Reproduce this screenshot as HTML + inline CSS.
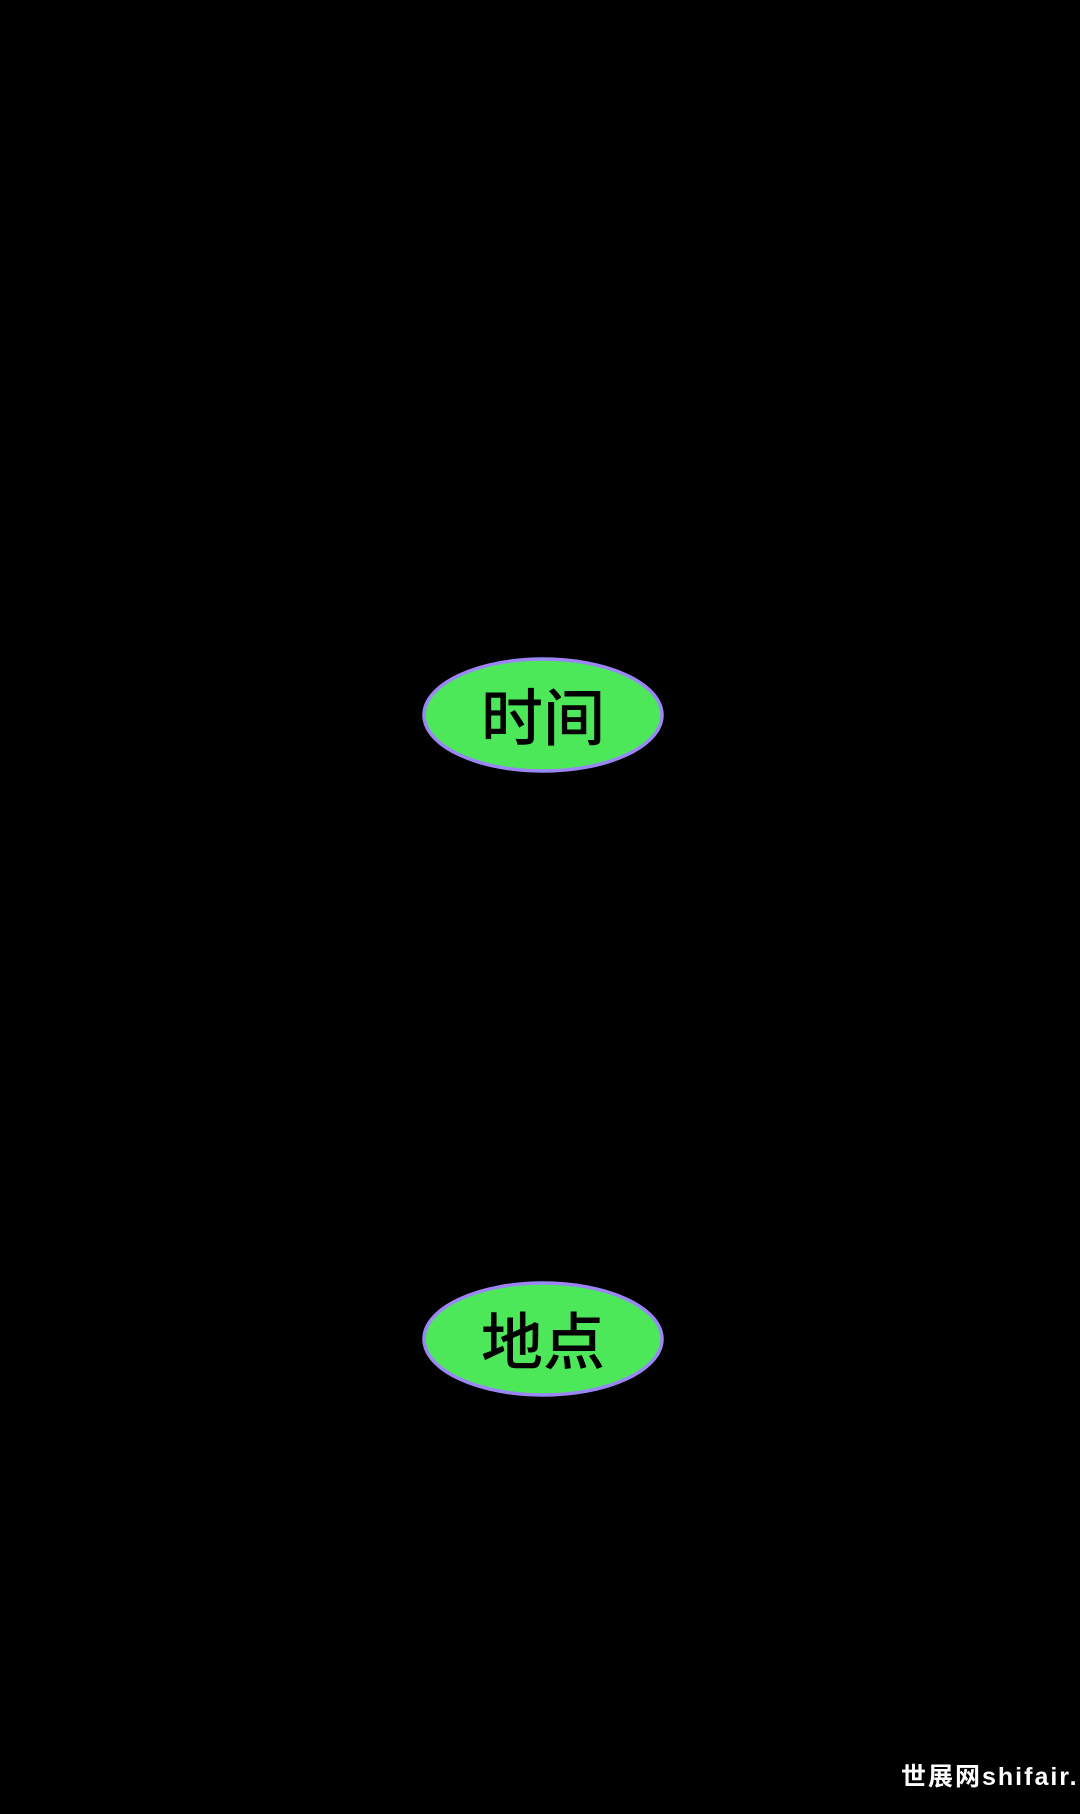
<!DOCTYPE html>
<html><head><meta charset="utf-8"><style>
html,body{margin:0;padding:0;background:#000;}
body{width:1080px;height:1814px;position:relative;overflow:hidden;}
.wm{position:absolute;left:901px;top:1757px;font:bold 25px "Liberation Sans","Noto Sans CJK SC",sans-serif;color:#fff;white-space:nowrap;letter-spacing:2px;}
</style></head><body>
<svg width="1080" height="1814" style="position:absolute;left:0;top:0">
<ellipse cx="543" cy="715" rx="119" ry="56" fill="#4ce85a" stroke="#9b86f5" stroke-width="3.5"/>
<text x="543" y="740" text-anchor="middle" font-family="Noto Sans CJK SC, sans-serif" font-weight="500" font-size="62" fill="#000">时间</text>
<ellipse cx="543" cy="1339" rx="119" ry="56" fill="#4ce85a" stroke="#9b86f5" stroke-width="3.5"/>
<text x="543" y="1364" text-anchor="middle" font-family="Noto Sans CJK SC, sans-serif" font-weight="500" font-size="62" fill="#000">地点</text>
</svg>
<div class="wm">世展网shifair.</div>
</body></html>
